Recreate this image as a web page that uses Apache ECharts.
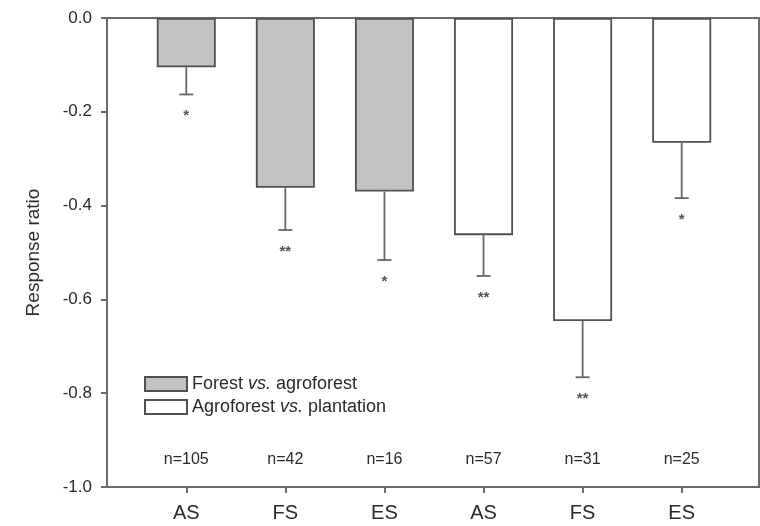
<!DOCTYPE html>
<html>
<head>
<meta charset="utf-8">
<script src="https://cdn.jsdelivr.net/npm/echarts@6/dist/echarts.min.js"></script>
<style>
  html, body { margin: 0; padding: 0; background: #fff; }
  #chart { width: 760px; height: 526px; }
</style>
</head>
<body>
<div id="chart"></div>
<script>
// Category labels along the x axis (positions 1..6)
const categories = ['AS', 'FS', 'ES', 'AS', 'FS', 'ES'];
const positions = [1, 2, 3, 4, 5, 6];
// Mean response ratios
const forestVsAgro = [-0.105, -0.362, -0.370];
const agroVsPlant = [-0.463, -0.646, -0.266];
// Lower end of the error bar for each category
const errorLow = [-0.163, -0.452, -0.516, -0.550, -0.766, -0.384];
// Significance marks below each error bar
const signif = ['*', '**', '*', '**', '**', '*'];
// Sample sizes
const sampleSizes = ['n=105', 'n=42', 'n=16', 'n=57', 'n=31', 'n=25'];

const means = forestVsAgro.concat(agroVsPlant);
const font = 'Liberation Sans, Arial, sans-serif';
const ink = '#2a2a2a';
const lineCol = '#6a6a6a';

const chart = echarts.init(document.getElementById('chart'), null, { renderer: 'canvas' });

const option = {
  animation: false,
  backgroundColor: '#fff',
  grid: {
    left: 107, right: 1, top: 18, bottom: 39,
    show: true, borderColor: lineCol, borderWidth: 2, backgroundColor: 'transparent'
  },
  legend: {
    orient: 'vertical',
    left: 139, top: 370,
    itemWidth: 42, itemHeight: 14, itemGap: 5,
    icon: 'rect',
    textStyle: {
      fontFamily: font, fontSize: 18, color: ink,
      rich: {
        n: { fontFamily: font, fontSize: 18, color: ink },
        i: { fontFamily: font, fontSize: 18, color: ink, fontStyle: 'italic' }
      }
    },
    formatter: function (name) {
      const parts = name.split(' vs. ');
      return '{n|' + parts[0] + ' }{i|vs.}{n| ' + parts[1] + '}';
    },
    data: ['Forest vs. agroforest', 'Agroforest vs. plantation']
  },
  xAxis: [
    {
      type: 'value', min: 0.2, max: 6.78,
      splitLine: { show: false },
      axisLine: { show: true, onZero: false, lineStyle: { color: lineCol, width: 2 } },
      axisTick: { show: true, length: 6, customValues: positions, lineStyle: { color: lineCol, width: 2 } },
      axisLabel: {
        customValues: positions, margin: 16,
        fontFamily: font, fontSize: 20, color: ink,
        formatter: v => categories[Math.round(v) - 1]
      }
    },
    {
      type: 'value', min: 0.2, max: 6.78, position: 'bottom',
      splitLine: { show: false },
      axisLine: { show: false }, axisTick: { show: false },
      axisLabel: {
        inside: true, customValues: positions, margin: 19,
        fontFamily: font, fontSize: 16, color: ink,
        formatter: v => sampleSizes[Math.round(v) - 1]
      }
    }
  ],
  yAxis: {
    type: 'value', min: -1, max: 0, interval: 0.2,
    name: 'Response ratio', nameLocation: 'middle', nameGap: 64, nameRotate: 90,
    nameTextStyle: { fontFamily: font, fontSize: 19, color: ink },
    splitLine: { show: false },
    axisLine: { show: true, lineStyle: { color: lineCol, width: 2 } },
    axisTick: { show: true, length: 6, lineStyle: { color: lineCol, width: 2 } },
    axisLabel: {
      fontFamily: font, fontSize: 17, color: ink, margin: 15,
      formatter: v => (Math.abs(v) < 1e-9 ? 0 : v).toFixed(1)
    }
  },
  series: [
    {
      name: 'Forest vs. agroforest', type: 'bar', barWidth: 59, barGap: '-100%',
      itemStyle: { color: '#c2c2c2', borderColor: '#505050', borderWidth: 1.8 },
      data: forestVsAgro.map((v, i) => [positions[i], v])
    },
    {
      name: 'Agroforest vs. plantation', type: 'bar', barWidth: 59, barGap: '-100%',
      itemStyle: { color: '#ffffff', borderColor: '#505050', borderWidth: 1.8 },
      data: agroVsPlant.map((v, i) => [positions[i + 3], v])
    },
    {
      name: 'errors', type: 'custom',
      data: positions.map((p, i) => [p, means[i], errorLow[i]]),
      encode: { x: 0, y: [1, 2] },
      renderItem: function (params, api) {
        const x = api.value(0);
        const top = api.coord([x, api.value(1)]);
        const low = api.coord([x, api.value(2)]);
        const mark = signif[params.dataIndex];
        const stroke = { stroke: '#666', lineWidth: 1.8 };
        return {
          type: 'group',
          children: [
            { type: 'line', shape: { x1: top[0], y1: top[1], x2: low[0], y2: low[1] }, style: stroke },
            { type: 'line', shape: { x1: low[0] - 7, y1: low[1], x2: low[0] + 7, y2: low[1] }, style: stroke },
            {
              type: 'text',
              style: {
                text: mark, x: low[0], y: low[1] + 14,
                align: 'center', verticalAlign: 'top',
                font: 'bold 15px ' + font, fill: '#555'
              }
            }
          ]
        };
      },
      z: 3
    }
  ]
};

chart.setOption(option);
</script>
</body>
</html>
